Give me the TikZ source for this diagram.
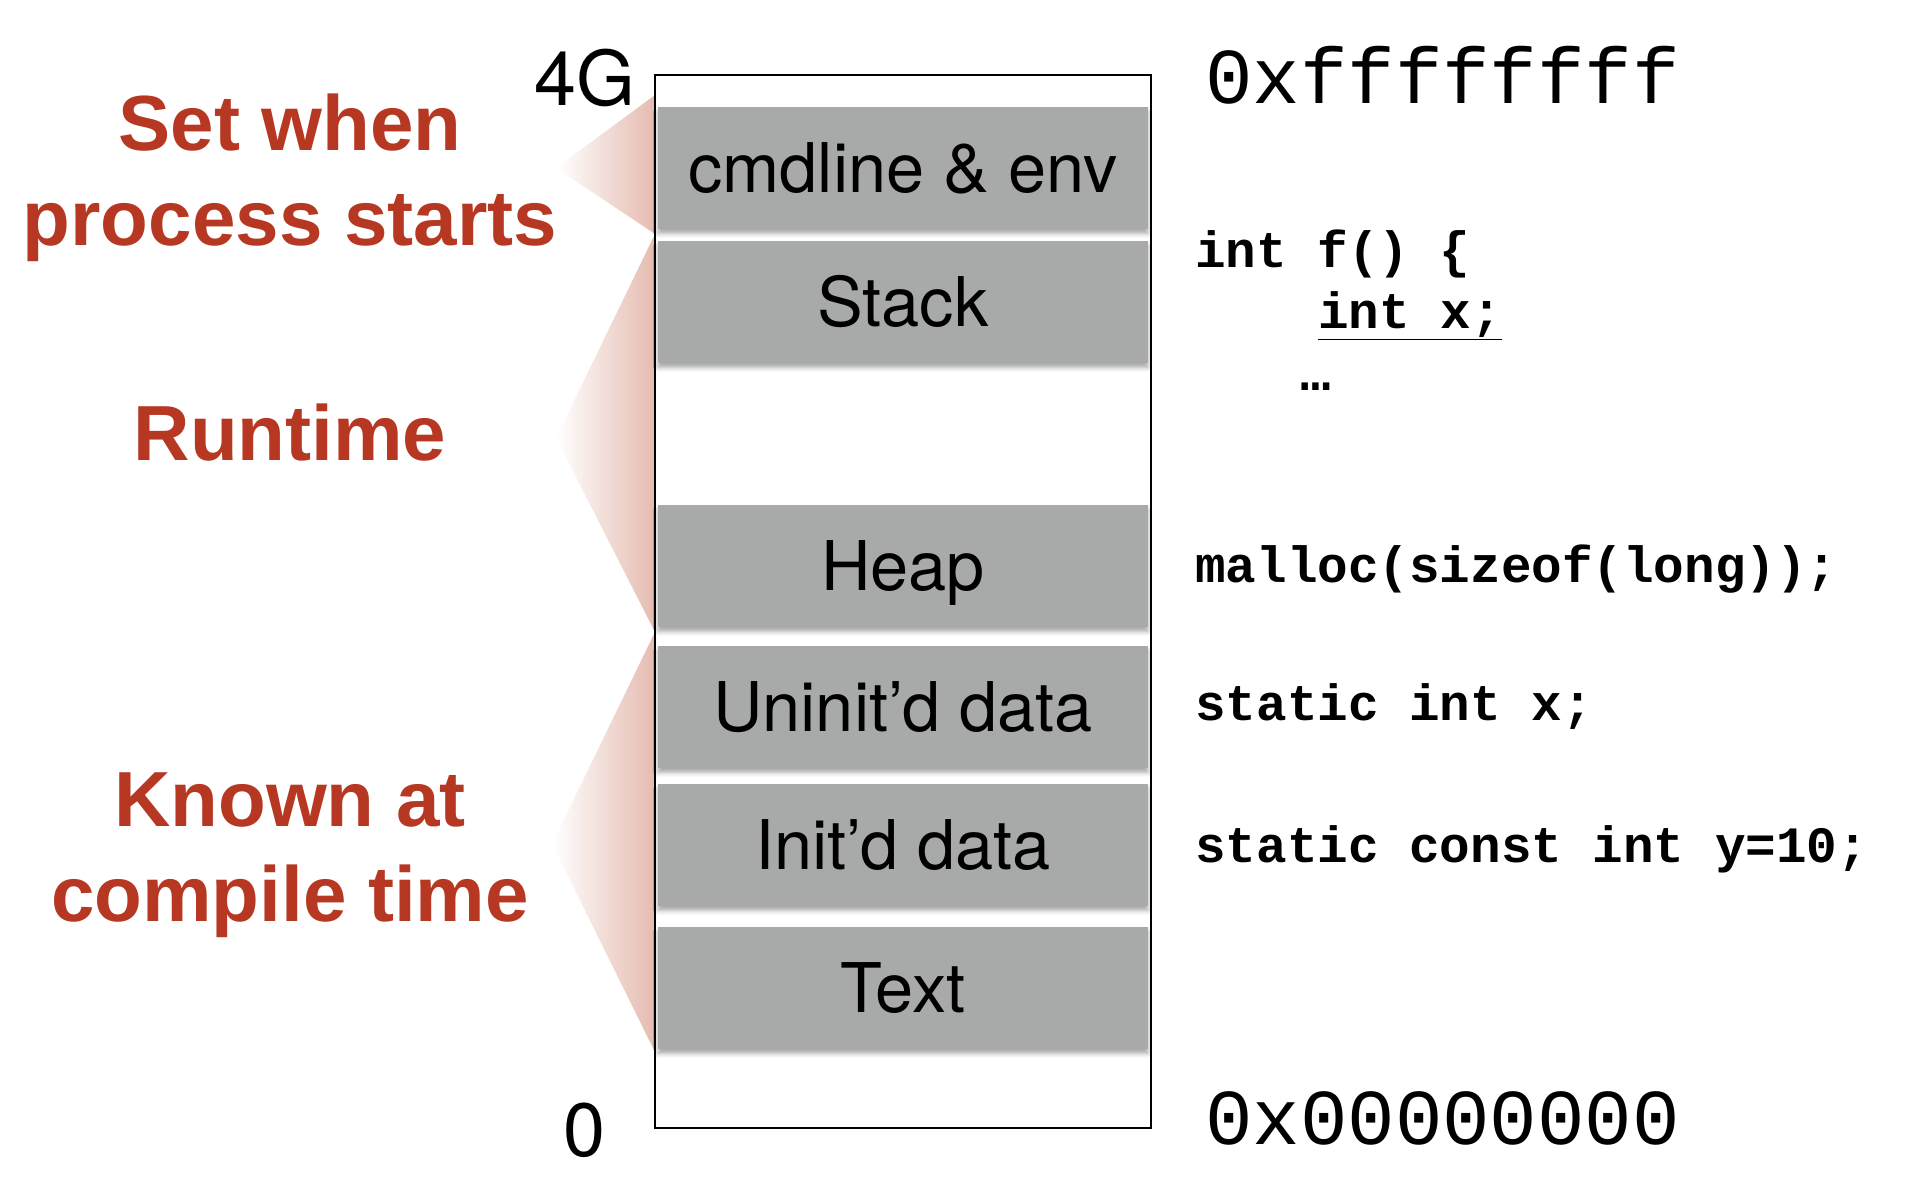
\documentclass[tikz,border=0pt]{standalone}
\usepackage{fontspec}
\setmainfont{TeX Gyre Heros}
\newfontfamily\labelfont{Liberation Sans}
\newfontfamily\codefont{Liberation Mono}
\usetikzlibrary{positioning, shadows.blur}
\definecolor{LabelRed}{RGB}{183, 56, 34}
\definecolor{SegGray}{RGB}{168, 170, 169}
\definecolor{WedgePink}{RGB}{229, 187, 176}

\begin{document}
\begin{tikzpicture}[x=0.02cm, y=-0.02cm,
        seg/.style={fill=SegGray, minimum width=9.8cm, minimum height=2.44cm, inner sep=0pt,
            text height=28pt, text depth=0pt, font=\fontsize{39}{42}\selectfont,
            blur shadow={shadow xshift=0pt, shadow yshift=-2.5pt, shadow blur radius=2.5pt, shadow opacity=35}},
        phase/.style={font=\labelfont\bfseries\fontsize{44.5}{54}\selectfont, text=LabelRed, align=center, inner sep=0pt},
        addr/.style={font=\codefont\fontsize{45}{50}\selectfont, inner sep=0pt, anchor=base west},
        code/.style={font=\codefont\bfseries\fontsize{29}{32}\selectfont, inner sep=0pt, anchor=base west},
        bound/.style={font=\fontsize{43}{46}\selectfont, inner sep=0pt},
        wedge/.style={left color=white, right color=WedgePink}
    ]
        \useasboundingbox (0,0) rectangle (1914,1190);

        % Wedges from the labels to the segments
        \coordinate (p1) at (556,168);
        \coordinate (p2) at (556,438);
        \coordinate (p3) at (552,844);
        \coordinate (w0) at (655,95);
        \coordinate (w1) at (655,234);
        \coordinate (w2) at (655,632);
        \coordinate (w3) at (655,1052);
        \shade[wedge] (p1) -- (w0) -- (w1) -- cycle;
        \shade[wedge] (p2) -- (w1) -- (w2) -- cycle;
        \shade[wedge] (p3) -- (w2) -- (w3) -- cycle;

        % Address space
        \node[draw, line width=1.2pt, minimum width=9.92cm, minimum height=21.06cm, inner sep=0pt] (mem) at (903,601.5) {};
        \node[seg] (cmd) at (903,168) {cmdline \& env};
        \node[seg] (stack) at (903,302) {Stack};
        \node[seg] (heap) at (903,566) {Heap};
        \node[seg] (bss) at (903,707) {Uninit’d data};
        \node[seg] (data) at (903,845) {Init’d data};
        \node[seg] (text) at (903,988) {Text};

        \node[bound, anchor=base east] (top) at (636,105) {4G};
        \node[bound, anchor=base] (bottom) at (584,1156) {0};
        \node[addr] (hi) at (1205,103) {0xffffffff};
        \node[addr] (lo) at (1205,1144) {0x00000000};

        % Phases
        \node[phase, anchor=base] (setlbl) at (290,245) {Set when\\process starts};
        \node[phase, anchor=base] (runlbl) at (290,460) {Runtime};
        \node[phase, anchor=base] (knownlbl) at (290,921) {Known at\\compile time};

        % Examples
        \node[code] (fdef) at (1195,267) {int f() \{};
        \node[code] (local) at (1318,328) {\underline{int x;}};
        \node[code] (dots) at (1300,390) {…};
        \node[code] (mal) at (1195,582) {malloc(sizeof(long));};
        \node[code] (bssx) at (1195,720) {static int x;};
        \node[code] (datay) at (1195,862) {static const int y=10;};
    \end{tikzpicture}
\end{document}
